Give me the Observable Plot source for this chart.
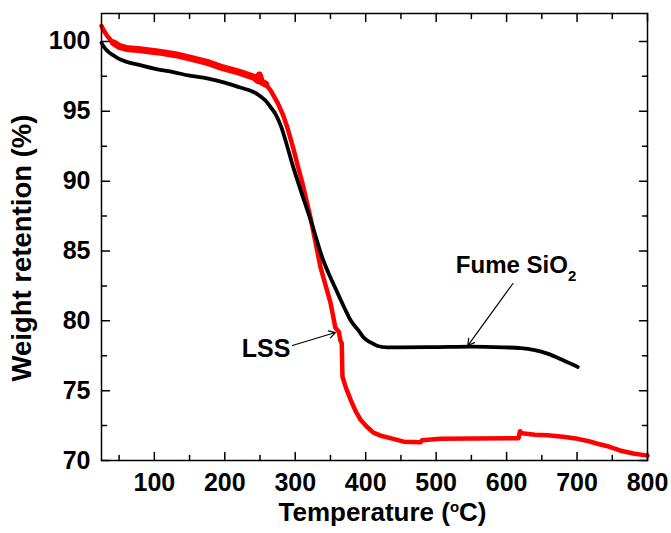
<!DOCTYPE html>
<html><head><meta charset="utf-8">
<script src="https://cdn.jsdelivr.net/npm/d3@7"></script>
<script src="https://cdn.jsdelivr.net/npm/@observablehq/plot@0.6"></script>
<style>body{margin:0;background:#fff}</style>
</head><body><div id="chart"></div><script>
// Fume SiO2 (black)
const fumeT = [25, 30, 36, 42, 50, 60, 80, 100, 127, 150, 175, 200, 222, 240, 250, 258, 265, 272, 280, 288, 296, 308, 322, 340, 350, 360, 370, 379, 390, 397, 407, 417, 430, 450, 500, 550, 596, 620, 640, 658, 681, 701];
const fumeW = [99.9, 99.5, 99.2, 99.0, 98.75, 98.55, 98.3, 98.05, 97.8, 97.55, 97.35, 97.05, 96.7, 96.4, 96.1, 95.75, 95.3, 94.8, 93.9, 92.6, 91.2, 89.3, 87.2, 84.3, 83.1, 82.0, 80.9, 80.0, 79.3, 78.8, 78.45, 78.2, 78.1, 78.1, 78.12, 78.15, 78.1, 78.05, 77.9, 77.65, 77.16, 76.7];
// LSS (red)
const lssT = [25, 28, 33, 38, 42, 50, 60, 80, 105, 130, 151, 175, 198, 220, 241, 247, 249, 252, 258, 265, 275, 283, 289, 297, 303, 310, 322, 336, 350, 357, 362, 364, 366, 367, 372, 379, 386, 393, 402, 411, 423, 435, 454, 478, 480, 506, 617, 619, 622, 640, 658, 680, 701, 715, 729, 745, 762, 780, 800];
const lssW = [101.1, 100.8, 100.4, 100.1, 99.9, 99.65, 99.5, 99.4, 99.25, 99.05, 98.8, 98.5, 98.1, 97.8, 97.45, 97.2, 97.6, 97.1, 96.95, 96.5, 95.6, 94.7, 93.8, 92.4, 91.2, 89.9, 87.3, 83.8, 81.3, 79.5, 79.2, 78.6, 78.4, 76.0, 75.2, 74.3, 73.5, 72.9, 72.4, 72.0, 71.75, 71.6, 71.35, 71.3, 71.45, 71.55, 71.6, 72.1, 71.95, 71.85, 71.8, 71.7, 71.55, 71.4, 71.2, 71.0, 70.7, 70.5, 70.35];

const xMajor = [100, 200, 300, 400, 500, 600, 700, 800];
const xMinor = [50, 150, 250, 350, 450, 550, 650, 750];
const yMajor = [70, 75, 80, 85, 90, 95, 100];
const yMinor = [72.5, 77.5, 82.5, 87.5, 92.5, 97.5];

// annotations: LSS (text right-aligned), Fume SiO2 (text left-aligned)
const lssLabel = {text: "LSS", x: 293, y: 78.0};
const fumeLabel = {text: "Fume SiO2", x: 528, y: 84.0};
const arrowX1 = [296, 609];
const arrowY1 = [78.23, 82.67];
const arrowX2 = [357, 545];
const arrowY2 = [79.16, 78.23];

const X0 = 25, X1 = 800, Y0 = 70, Y1 = 102;

const fume = fumeT.map((t, i) => ({t, w: fumeW[i]}));
const lss = lssT.map((t, i) => ({t, w: lssW[i]}));
const arrows = arrowX1.map((x1, i) => ({x1, y1: arrowY1[i], x2: arrowX2[i], y2: arrowY2[i]}));

const tickRows = (xs, ys) => [
  ...xs.map(v => ({x: v, y: Y0, r: 0})),
  ...xs.map(v => ({x: v, y: Y1, r: 180})),
  ...ys.map(v => ({x: X0, y: v, r: 90})),
  ...ys.map(v => ({x: X1, y: v, r: 270}))
];
const majorTicks = tickRows(xMajor, yMajor);
const minorTicks = tickRows(xMinor, yMinor);
const tickShape = {draw(ctx, l) { ctx.moveTo(0, 0); ctx.lineTo(0, -l); }};

const font = "'Liberation Sans', Arial, sans-serif";

const chart = Plot.plot({
  width: 671, height: 533,
  marginLeft: 101, marginRight: 24, marginTop: 13, marginBottom: 73,
  style: {fontFamily: font, background: "#fff", color: "#000", overflow: "visible"},
  x: {domain: [X0, X1]},
  y: {domain: [Y0, Y1]},
  marks: [
    Plot.line(lss, {x: "t", y: "w", stroke: "#ff0000", strokeWidth: 4.5}),
    Plot.line(lss.filter(d => d.t >= 42 && d.t <= 258), {x: "t", y: "w", stroke: "#ff0000", strokeWidth: 7}),
    Plot.line(fume, {x: "t", y: "w", stroke: "#000", strokeWidth: 3.8, curve: "monotone-x"}),
    Plot.frame({stroke: "#000", strokeWidth: 1.5}),
    Plot.vector(majorTicks, {x: "x", y: "y", rotate: "r", length: 8, anchor: "start", shape: tickShape, stroke: "#000", strokeWidth: 1.5}),
    Plot.vector(minorTicks, {x: "x", y: "y", rotate: "r", length: 5, anchor: "start", shape: tickShape, stroke: "#000", strokeWidth: 1.5}),
    Plot.axisX({ticks: xMajor, tickSize: 0, tickPadding: 13, fontSize: 25, fontWeight: "bold", label: null}),
    Plot.axisY({ticks: yMajor, tickSize: 0, tickPadding: 11, fontSize: 25, fontWeight: "bold", label: null}),
    Plot.text(["Temperature (°C)"], {text: d => d, frameAnchor: "bottom", lineAnchor: "top", textAnchor: "middle", dx: 8, dy: 42, fontSize: 26, fontWeight: "bold"}),
    Plot.text(["Weight retention (%)"], {text: d => d, frameAnchor: "left", textAnchor: "middle", lineAnchor: "middle", rotate: -90, dx: -79, dy: 11, fontSize: 27.5, fontWeight: "bold"}),
    Plot.arrow(arrows, {x1: "x1", y1: "y1", x2: "x2", y2: "y2", stroke: "#000", strokeWidth: 1.2, headLength: 9}),
    Plot.text([lssLabel], {x: "x", y: "y", text: "text", textAnchor: "end", fontSize: 25, fontWeight: "bold"}),
    Plot.text([fumeLabel], {x: "x", y: "y", text: "text", textAnchor: "start", fontSize: 24, fontWeight: "bold"})
  ]
});
document.getElementById("chart").appendChild(chart);

// superscript / subscript
d3.select(chart).selectAll("text").each(function() {
  const t = this.textContent;
  const sel = d3.select(this);
  if (t === "Temperature (°C)") {
    sel.text(null);
    sel.append("tspan").text("Temperature (");
    sel.append("tspan").attr("dy", -9).attr("font-size", 15).text("o");
    sel.append("tspan").attr("dy", 9).text("C)");
  } else if (t === "Fume SiO2") {
    sel.text(null);
    sel.append("tspan").text("Fume SiO");
    sel.append("tspan").attr("dy", 8).attr("font-size", 15).text("2");
  }
});
</script></body></html>
